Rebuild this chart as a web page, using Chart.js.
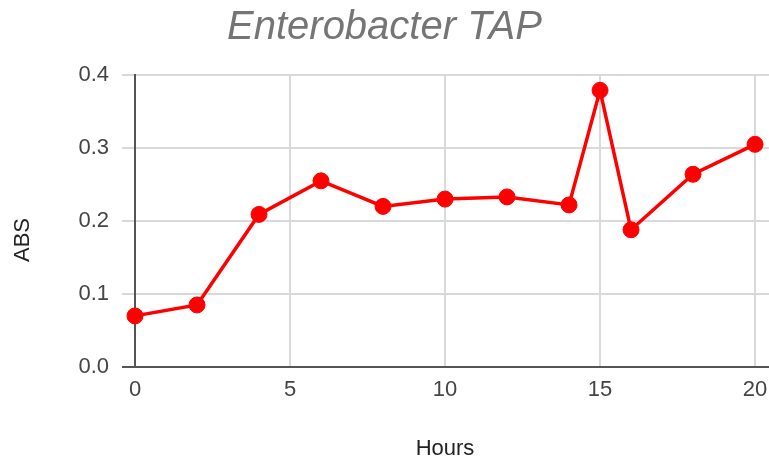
<!DOCTYPE html>
<html>
<head>
<meta charset="utf-8">
<script src="https://cdn.jsdelivr.net/npm/chart.js@4"></script>
<style>
  html, body { margin: 0; padding: 0; background: #fff; }
  #wrap { width: 769px; height: 465px; }
</style>
</head>
<body>
<div id="wrap"><canvas id="c" width="769" height="465"></canvas></div>
<script>
// Absorbance readings over time
const chartTitle = 'Enterobacter TAP';
const xTitle = 'Hours';
const yTitle = 'ABS';
const hours = [0, 2, 4, 6, 8, 10, 12, 14, 15, 16, 18, 20];
const absValues = [0.070, 0.085, 0.209, 0.255, 0.220, 0.230, 0.233, 0.222, 0.379, 0.188, 0.264, 0.305];
const xTicks = [0, 5, 10, 15, 20];
const yTicks = [0.0, 0.1, 0.2, 0.3, 0.4];

const points = hours.map((h, i) => ({ x: h, y: absValues[i] }));

// Axis titles drawn after the chart, centred on the labelled range
const axisTitles = {
  id: 'axisTitles',
  afterDraw(chart) {
    const { ctx, chartArea, scales } = chart;
    ctx.save();
    ctx.fillStyle = '#222';
    ctx.font = '22px "Liberation Sans", Arial, sans-serif';
    ctx.textAlign = 'center';
    ctx.textBaseline = 'middle';
    const xMid = (scales.x.getPixelForValue(xTicks[0]) + scales.x.getPixelForValue(xTicks[xTicks.length - 1])) / 2;
    ctx.fillText(xTitle, xMid, chart.height - 16);
    ctx.translate(23, (chartArea.top + chartArea.bottom) / 2 + 19);
    ctx.rotate(-Math.PI / 2);
    ctx.fillText(yTitle, 0, 0);
    ctx.restore();
  }
};

new Chart(document.getElementById('c'), {
  type: 'line',
  data: {
    datasets: [{
      data: points,
      borderColor: '#ff0000',
      backgroundColor: '#ff0000',
      borderWidth: 3.5,
      pointRadius: 8,
      pointHoverRadius: 8,
      pointBackgroundColor: '#ff0000',
      pointBorderColor: '#ff0000',
      pointBorderWidth: 1,
      tension: 0,
      clip: false
    }]
  },
  options: {
    responsive: false,
    devicePixelRatio: 1,
    animation: false,
    layout: { padding: 0, autoPadding: false },
    plugins: {
      legend: { display: false },
      tooltip: { enabled: false },
      title: {
        display: true,
        text: chartTitle,
        color: '#757575',
        font: { family: '"Liberation Sans", Arial, sans-serif', size: 40, style: 'italic', weight: 'normal' },
        padding: { top: 4, bottom: 23 }
      }
    },
    scales: {
      x: {
        type: 'linear',
        min: 0,
        max: 20.45,
        afterFit(scale) {
          scale.height = 98;
          scale.paddingLeft = 0;
          scale.paddingRight = 0;
        },
        afterBuildTicks(scale) { scale.ticks = xTicks.map(v => ({ value: v })); },
        ticks: {
          color: '#444',
          padding: 10,
          maxRotation: 0,
          includeBounds: false,
          font: { family: '"Liberation Sans", Arial, sans-serif', size: 22 }
        },
        grid: { color: '#d9d9d9', lineWidth: 2, drawTicks: false },
        border: { display: true, color: '#555', width: 2 }
      },
      y: {
        min: 0,
        max: 0.4,
        afterFit(scale) {
          scale.width = 135;
          scale.paddingTop = 0;
          scale.paddingBottom = 0;
        },
        afterBuildTicks(scale) { scale.ticks = yTicks.map(v => ({ value: v })); },
        ticks: {
          color: '#444',
          padding: 13,
          callback: v => Number(v).toFixed(1),
          font: { family: '"Liberation Sans", Arial, sans-serif', size: 22 }
        },
        grid: {
          color: '#d9d9d9',
          lineWidth: 2,
          tickLength: 13,
          tickColor: ctx => (ctx.tick && ctx.tick.value === 0 ? '#555' : '#d9d9d9')
        },
        border: { display: true, color: '#555', width: 2 }
      }
    }
  },
  plugins: [axisTitles]
});
</script>
</body>
</html>
